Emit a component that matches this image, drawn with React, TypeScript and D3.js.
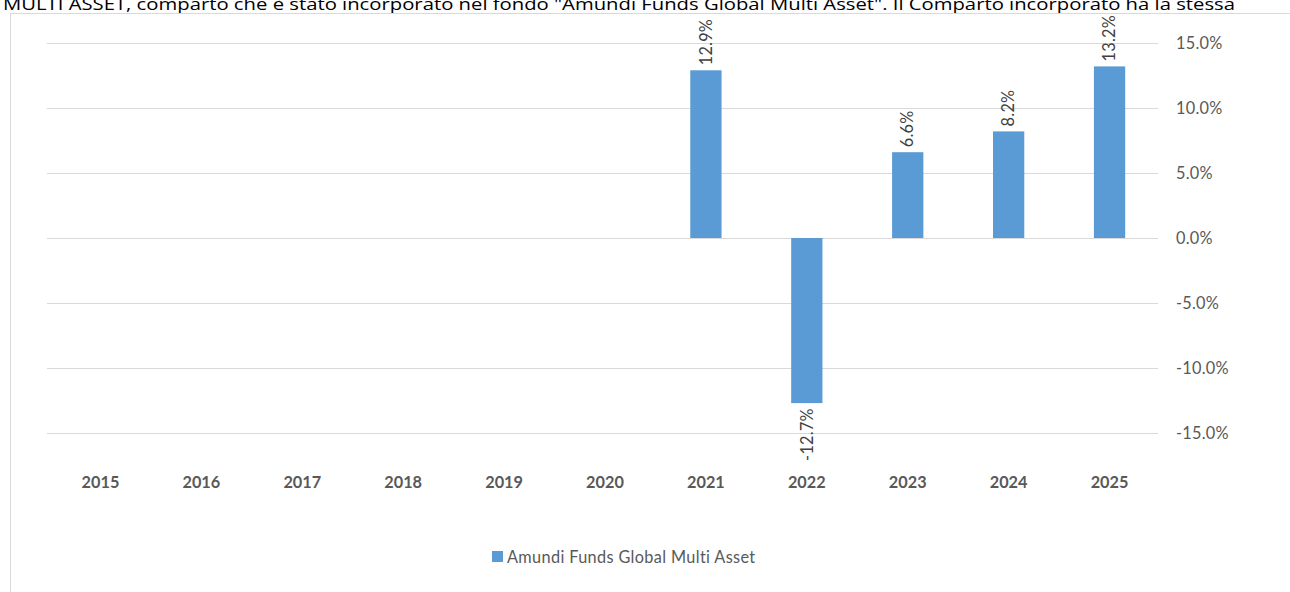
import React from "react";
import * as d3 from "d3";

const categories = ["2015","2016","2017","2018","2019","2020","2021","2022","2023","2024","2025"];
const values: (number | null)[] = [null, null, null, null, null, null, 12.9, -12.7, 6.6, 8.2, 13.2];
const yTicks = [15, 10, 5, 0, -5, -10, -15];
const seriesName = "Amundi Funds Global Multi Asset";
const headerText = "MULTI ASSET, comparto che è stato incorporato nel fondo \"Amundi Funds Global Multi Asset\". Il Comparto incorporato ha la stessa";

const W = 1290, H = 592;
const FONT = "Lato, Open Sans, sans-serif";
const FS = 16.3;
const LS = 0.35;

export default function App() {
  const x = d3.scaleBand<string>().domain(categories).range([50, 1160]).paddingInner(0.69).paddingOuter(0.345);
  const y = d3.scaleLinear().domain([-15, 15]).range([433, 43]);
  const fmt = (v: number) => v.toFixed(1) + "%";
  return (
    <svg width={W} height={H} style={{ position: "absolute", left: 0, top: 0, background: "#fff" }} fontFamily={FONT}>
      <text x={3} y={9.5} fontSize={16.5} fontFamily="Open Sans, sans-serif" fill="#000" textLength={1232} lengthAdjust="spacingAndGlyphs">{headerText}</text>
      <rect x={10.5} y={13.5} width={1300} height={600} fill="none" stroke="#d9d9d9" strokeWidth={1} />
      {yTicks.map((t) => (
        <g key={t}>
          <line x1={47} x2={1158} y1={Math.round(y(t)) + 0.5} y2={Math.round(y(t)) + 0.5} stroke="#d9d9d9" strokeWidth={1} />
          <text x={1176} y={y(t)} dy="0.35em" fontSize={FS} letterSpacing={0.25} fill="#595959">{fmt(t)}</text>
        </g>
      ))}
      {categories.map((c, i) => {
        const v = values[i];
        if (v === null) return null;
        const x0 = x(c)!;
        const top = v >= 0 ? y(v) : y(0);
        const h = Math.abs(y(v) - y(0));
        return <rect key={c} x={x0} y={top} width={x.bandwidth()} height={h} fill="#5B9BD5" />;
      })}
      {categories.map((c, i) => {
        const v = values[i];
        if (v === null) return null;
        const cx = x(c)! + x.bandwidth() / 2;
        const py = v >= 0 ? y(v) - 5 : y(v) + 5;
        return (
          <text key={c} transform={`translate(${cx},${py}) rotate(-90)`} textAnchor={v >= 0 ? "start" : "end"} dy="0.35em" fontSize={FS} letterSpacing={0.25} fill="#404040">
            {fmt(v)}
          </text>
        );
      })}
      {categories.map((c) => (
        <text key={c} x={x(c)! + x.bandwidth() / 2} y={482} dy="0.35em" textAnchor="middle" fontSize={FS} fontWeight="bold" fill="#595959">{c}</text>
      ))}
      <rect x={492} y={551} width={11} height={11} fill="#5B9BD5" />
      <text x={507} y={557} dy="0.35em" fontSize={FS} letterSpacing={LS} fill="#595959">{seriesName}</text>
    </svg>
  );
}
